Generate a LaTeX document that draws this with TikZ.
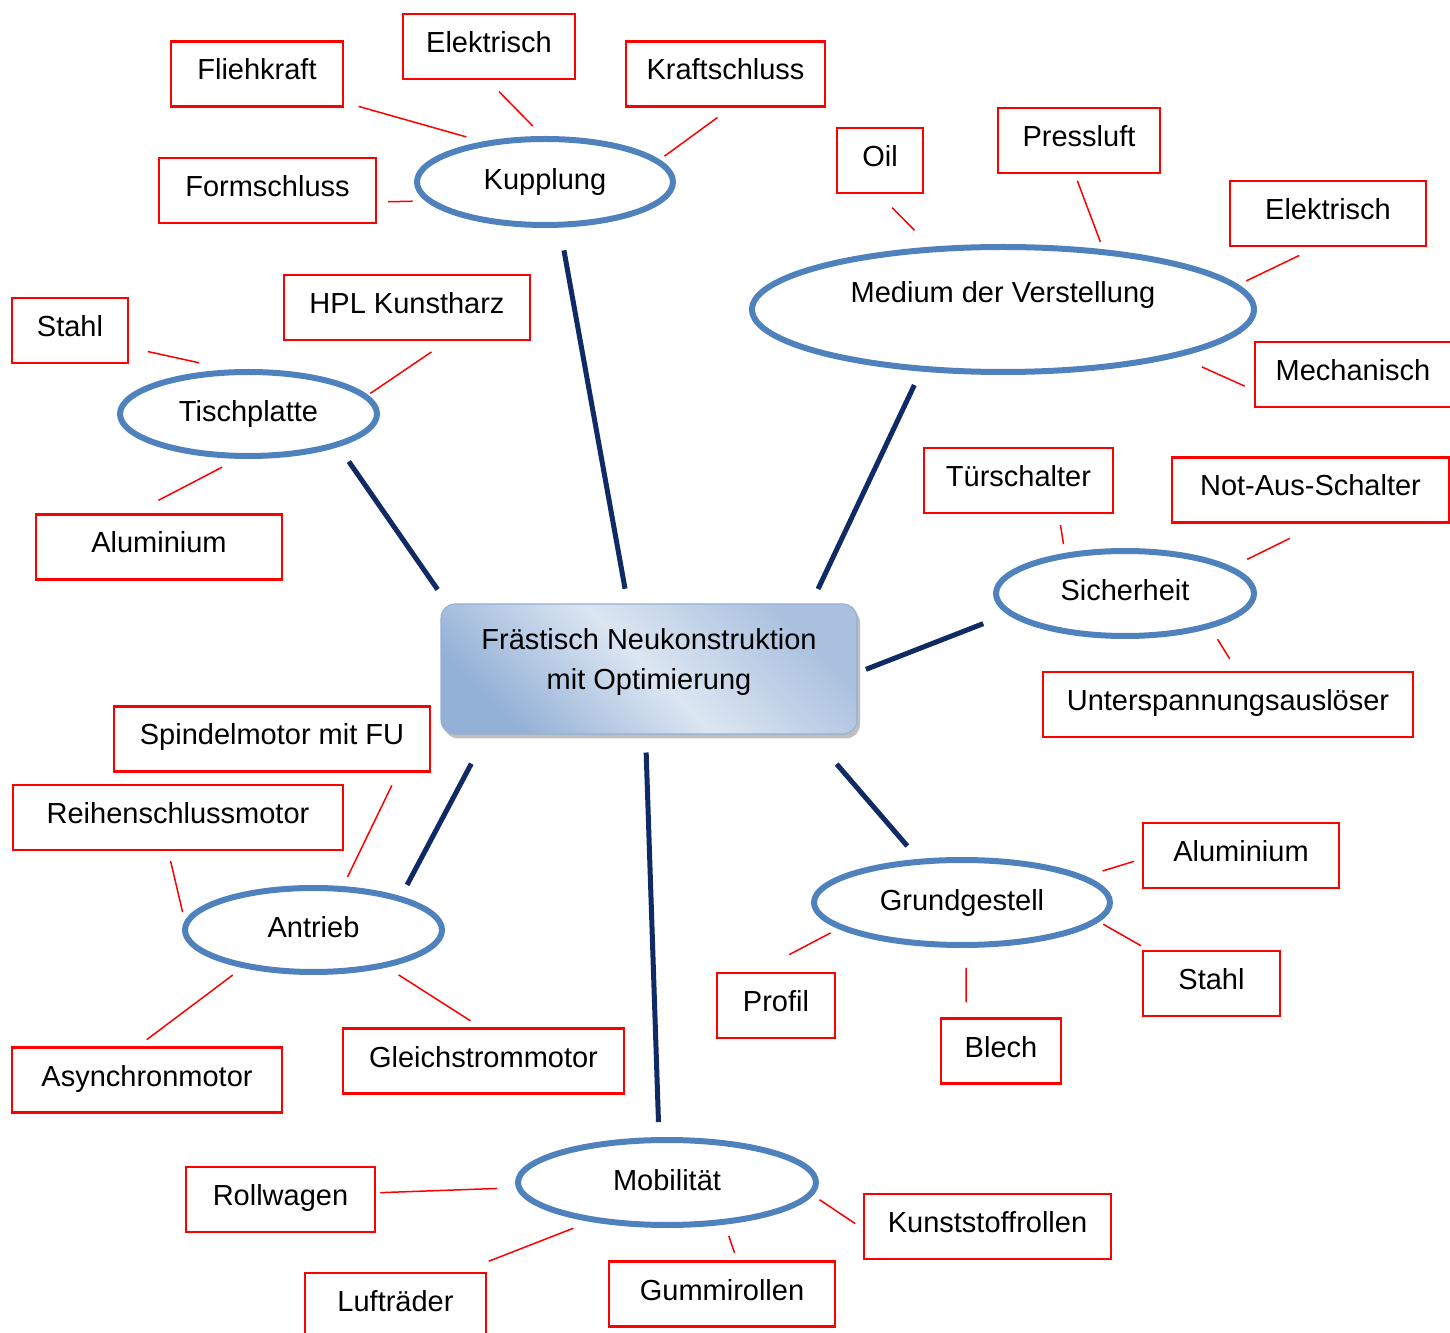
\documentclass[tikz,border=0pt]{standalone}
\usepackage{fontspec}
\setmainfont{Liberation Sans}
\usetikzlibrary{shapes.geometric,shadows}
\definecolor{ringblue}{HTML}{4F81BD}
\definecolor{spokenavy}{HTML}{0F2A64}
\definecolor{hubdark}{HTML}{93B0D6}
\definecolor{hublight}{HTML}{DCE6F2}
\definecolor{hubtop}{HTML}{A9C0DE}

\begin{document}
\begin{tikzpicture}[x=0.1mm,y=-0.1mm,
  font=\fontsize{8.25}{11.4}\selectfont,
  topic/.style={ellipse,draw=ringblue,line width=0.6mm,inner sep=0pt,text height=2.1mm,text depth=0.6mm},
  leaf/.style={draw=red,line width=0.25mm,inner sep=0pt,minimum height=6.5mm,text height=2.1mm,text depth=0.9mm},
  hub/.style={rectangle,rounded corners=1.4mm,draw=hubdark,line width=0.3pt,
    bottom color=hubdark,top color=hubtop,middle color=hublight,shading angle=-45,
    drop shadow={shadow xshift=0.3mm,shadow yshift=-0.45mm,fill=black!50}},
  spoke/.style 2 args={draw=spokenavy,line width=0.5mm,shorten <=#1,shorten >=#2},
  twig/.style 2 args={draw=red,line width=0.15mm,shorten <=#1,shorten >=#2}]
  \useasboundingbox (0,0) rectangle (1450,1333);

  % centre box
  \node[hub,minimum width=41.6mm,minimum height=13mm] (hub) at (649,669) {};
  \node[align=center] (title) at (649,662) {Frästisch Neukonstruktion\\mit Optimierung};

  % topics
  \node[topic,minimum width=25.6mm,minimum height=8.6mm] (kup) at (545,182) {Kupplung};
  \node[topic,minimum width=50.2mm,minimum height=12.5mm,text depth=3.5mm] (med) at (1003,309.5) {Medium der Verstellung};
  \node[topic,minimum width=25.7mm,minimum height=8.4mm] (tisch) at (248.5,414) {Tischplatte};
  \node[topic,minimum width=25.8mm,minimum height=8.5mm] (sich) at (1125,593.5) {Sicherheit};
  \node[topic,minimum width=25.7mm,minimum height=8.4mm] (antr) at (313.5,930) {Antrieb};
  \node[topic,minimum width=29.6mm,minimum height=8.5mm] (grund) at (962,902.5) {Grundgestell};
  \node[topic,minimum width=29.8mm,minimum height=8.5mm] (mobil) at (667,1182.5) {Mobilität};

  \draw[spoke={1.5mm}{2.3mm}] (hub.108) -- (kup.-72);
  \draw[spoke={1.6mm}{1.5mm}] (hub.22) -- (med.217);
  \draw[spoke={1.7mm}{1.8mm}] (hub.162) -- (tisch.-20);
  \draw[spoke={0.9mm}{2.6mm}] (hub.-1) -- (sich.190);
  \draw[spoke={3.3mm}{1.3mm}] (hub.202) -- (antr.21);
  \draw[spoke={3.9mm}{1.7mm}] (hub.-22) -- (grund.135);
  \draw[spoke={1.8mm}{1.5mm}] (hub.267) -- (mobil.100);

  % red boxes
  \foreach \nm/\x/\y/\w/\txt in {
      flieh/257/74/17.2/Fliehkraft, elekA/489/46.5/17.2/Elektrisch,
      kraft/725.5/74/19.9/Kraftschluss, form/267.5/190.5/21.7/Formschluss,
      oil/880/160.5/8.6/Oil, press/1079/140.5/16.2/Pressluft,
      elekB/1328/213.5/19.6/Elektrisch, mech/1353/374.5/19.6/Mechanisch,
      hpl/407/307.5/24.6/HPL Kunstharz, stahlA/70/330.5/11.6/Stahl,
      aluA/159/547/24.6/Aluminium, tuer/1018.5/480.5/18.9/Türschalter,
      notaus/1310.5/490/27.7/Not-Aus-Schalter, unter/1228/704.5/37.0/Unterspannungsauslöser,
      spindel/272/739/31.6/Spindelmotor mit FU, reihen/178/817.5/33.0/Reihenschlussmotor,
      asyn/147/1080/27.0/Asynchronmotor, gleich/483.5/1061/28.1/Gleichstrommotor,
      aluB/1241/855.5/19.6/Aluminium, stahlB/1211.5/983.5/13.7/Stahl,
      profil/776/1005.5/11.8/Profil, blech/1001/1051/12.0/Blech,
      roll/280.5/1199.5/18.9/Rollwagen, kunst/987.5/1226.5/24.7/Kunststoffrollen,
      gummi/722/1294/22.6/Gummirollen, luft/395.5/1305.5/18.1/Lufträder}
    \node[leaf,minimum width=\w mm] (\nm) at (\x,\y) {\txt};

  \foreach \a/\p/\b/\q/\s/\t in {
      flieh/-18/kup/147/1.5/1.7, elekA/-92/kup/93/1.6/1.4,
      kraft/-81/kup/11/1.65/0.6, form/-6/kup/189/1.1/1.3,
      oil/-92/med/139/1.9/2.3, press/-97/med/31/0.7/0.8,
      elekB/-109/med/6/1.9/0.9, mech/189/med/-15/1.0/2.5,
      stahlA/-16/tisch/113/1.9/3.1, hpl/-40/tisch/9/1.9/0.3,
      aluA/127/tisch/-103/2.8/1.8,
      tuer/-40/sich/146/1.1/0.9, notaus/-75/sich/14/3.3/1.7,
      unter/75/sich/-22/1.4/1.3,
      spindel/-15/antr/56/1.4/1.0, reihen/-106/antr/176/1.0/0.9,
      asyn/105/antr/208/1.1/1.2, gleich/95/antr/-27/1.2/1.4,
      aluB/182/grund/12/0.8/1.8, stahlB/152/grund/-8/0.8/0.5,
      profil/120/grund/192/3.7/0.9, blech/136/grund/-85/1.5/2.0,
      roll/4/mobil/182/0.4/1.9, kunst/181/mobil/-5/0.9/0.8,
      gummi/66/mobil/-36/0.8/1.2, luft/27/mobil/207/2.9/1.8}
    \draw[twig={\s mm}{\t mm}] (\a.\p) -- (\b.\q);
\end{tikzpicture}
\end{document}
